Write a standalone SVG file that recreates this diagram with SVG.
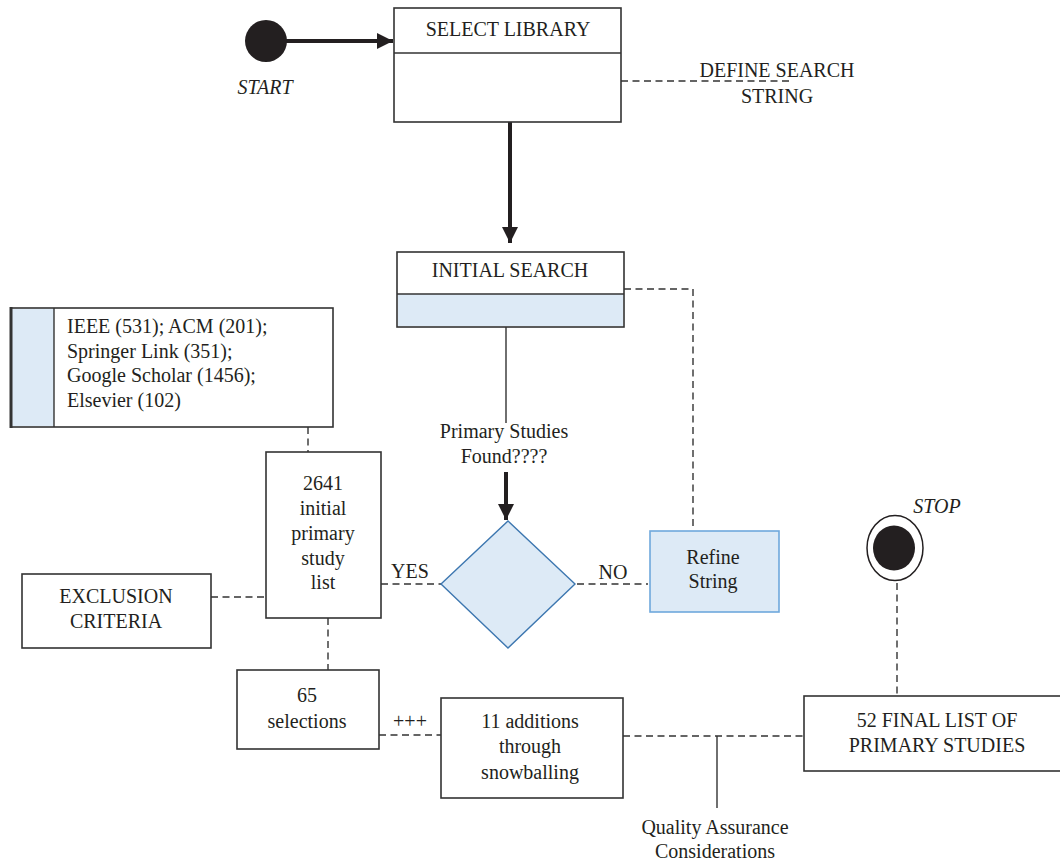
<svg xmlns="http://www.w3.org/2000/svg" width="1060" height="863" viewBox="0 0 1060 863">
<defs>
<style>
text{font-family:"Liberation Serif","Times New Roman",serif;font-size:20px;fill:#231f20;text-anchor:middle}
.it{font-style:italic}
.box{fill:#fff;stroke:#333;stroke-width:1.6}
.blue{fill:#ddeaf6}
.dash{fill:none;stroke:#333;stroke-width:1.4;stroke-dasharray:7 4.5}
.solid{fill:none;stroke:#333;stroke-width:1.4}
.thick{fill:none;stroke:#231f20;stroke-width:4}
</style>
<marker id="ah" viewBox="0 0 10 10" refX="10" refY="5" markerWidth="4" markerHeight="4" markerUnits="strokeWidth" orient="auto">
<path d="M0,0 L10,5 L0,10 z" fill="#231f20"/>
</marker>
</defs>
<g id="connectors">
<line class="thick" x1="285" y1="41" x2="393" y2="41" marker-end="url(#ah)"/>
<line class="dash" x1="621" y1="81" x2="790" y2="81"/>
<line class="thick" x1="510" y1="122" x2="510" y2="243" marker-end="url(#ah)"/>
<polyline class="dash" points="624,289 693,289 693,528"/>
<line class="solid" x1="506" y1="327" x2="506" y2="423"/>
<line class="thick" x1="506" y1="472" x2="506" y2="520" marker-end="url(#ah)"/>
<line class="dash" x1="577" y1="584" x2="648" y2="584"/>
<line class="dash" x1="381" y1="584" x2="441" y2="584"/>
<line class="dash" x1="308" y1="427" x2="308" y2="452"/>
<line class="dash" x1="211" y1="597" x2="266" y2="597"/>
<line class="dash" x1="328" y1="618" x2="328" y2="670"/>
<line class="dash" x1="379" y1="735" x2="441" y2="735"/>
<line class="dash" x1="623" y1="736" x2="804" y2="736"/>
<line class="solid" x1="717" y1="736" x2="717" y2="808"/>
<line class="dash" x1="897" y1="583" x2="897" y2="696"/>
<text x="410" y="578">YES</text>
<text x="613" y="579">NO</text>
<text x="410" y="728">+++</text>
<text x="504" y="438">Primary Studies</text>
<text x="504" y="463">Found????</text>
<text x="777" y="77">DEFINE SEARCH</text>
<text x="777" y="103">STRING</text>
<text x="715" y="834">Quality Assurance</text>
<text x="715" y="858">Considerations</text>
</g>
<g id="start">
<circle cx="266" cy="41" r="21" fill="#231f20"/>
<text class="it" x="265" y="94">START</text>
</g>
<g id="select-library">
<rect class="box" x="394" y="8" width="227" height="114"/>
<line class="solid" x1="394" y1="53" x2="621" y2="53"/>
<text x="508" y="36">SELECT LIBRARY</text>
</g>
<g id="initial-search">
<rect class="box" x="397" y="252" width="227" height="75"/>
<rect class="blue" x="398" y="294" width="225" height="32"/>
<line class="solid" x1="397" y1="294" x2="624" y2="294"/>
<text x="510" y="277">INITIAL SEARCH</text>
</g>
<g id="libraries">
<rect class="box" x="11" y="308" width="322" height="119"/>
<rect class="blue" x="12" y="309" width="42" height="117"/>
<line class="solid" x1="54" y1="308" x2="54" y2="427"/>
<line x1="11" y1="307" x2="11" y2="428" stroke="#333" stroke-width="3"/>
<text x="67" y="333" style="text-anchor:start">IEEE (531); ACM (201);</text>
<text x="67" y="358" style="text-anchor:start">Springer Link (351);</text>
<text x="67" y="382" style="text-anchor:start">Google Scholar (1456);</text>
<text x="67" y="407" style="text-anchor:start">Elsevier (102)</text>
</g>
<g id="initial-list">
<rect class="box" x="266" y="452" width="115" height="166"/>
<text x="323" y="490">2641</text>
<text x="323" y="515">initial</text>
<text x="323" y="540">primary</text>
<text x="323" y="565">study</text>
<text x="323" y="589">list</text>
</g>
<g id="decision">
<polygon points="508,521 575,584 508,648 441,584" fill="#ddeaf6" stroke="#3d77b0" stroke-width="1.4"/>
</g>
<g id="refine-string">
<rect x="650" y="531" width="129" height="81" fill="#ddeaf6" stroke="#6fa8dc" stroke-width="1.6"/>
<text x="713" y="564">Refine</text>
<text x="713" y="588">String</text>
</g>
<g id="exclusion">
<rect class="box" x="22" y="574" width="189" height="74"/>
<text x="116" y="603">EXCLUSION</text>
<text x="116" y="628">CRITERIA</text>
</g>
<g id="selections">
<rect class="box" x="237" y="670" width="142" height="79"/>
<text x="307" y="702">65</text>
<text x="307" y="728">selections</text>
</g>
<g id="snowballing">
<rect class="box" x="441" y="698" width="182" height="100"/>
<text x="530" y="728">11 additions</text>
<text x="530" y="753">through</text>
<text x="530" y="779">snowballing</text>
</g>
<g id="final-list">
<rect class="box" x="804" y="696" width="260" height="75"/>
<text x="937" y="727">52 FINAL LIST OF</text>
<text x="937" y="752">PRIMARY STUDIES</text>
</g>
<g id="stop">
<ellipse cx="895" cy="548" rx="28" ry="32.5" fill="#fff" stroke="#231f20" stroke-width="1.5"/>
<ellipse cx="894" cy="548" rx="21" ry="22.5" fill="#231f20"/>
<text class="it" x="937" y="513">STOP</text>
</g>
</svg>
